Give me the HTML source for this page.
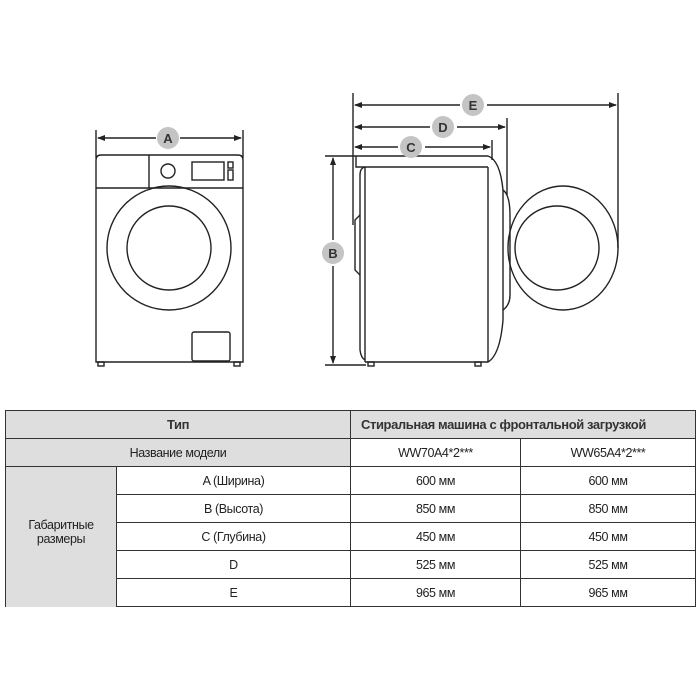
<!DOCTYPE html>
<html><head><meta charset="utf-8"><style>
body{margin:0;background:#fff;width:700px;height:700px;overflow:hidden;font-family:"Liberation Sans",sans-serif;}
svg{position:absolute;left:0;top:0}
table{position:absolute;left:5px;top:410px;border-collapse:collapse;font-family:"Liberation Sans",sans-serif;font-size:12.5px;color:#222;letter-spacing:-0.4px}
td{border:1px solid #333;text-align:center;height:27px;padding:0}
.g{background:#dedede}
.h{font-weight:bold;font-size:13px;color:#333}
</style></head><body>
<svg width="700" height="400" viewBox="0 0 700 400" fill="none" stroke="#222" stroke-width="1.4">
<defs><marker id="ar" markerWidth="8" markerHeight="8" refX="7" refY="4" orient="auto-start-reverse" markerUnits="userSpaceOnUse"><path d="M0,1 L8,4 L0,7 Z" fill="#222" stroke="none"/></marker></defs>
<!-- front -->
<line x1="96" y1="130" x2="96" y2="158"/><line x1="243" y1="130" x2="243" y2="158"/>
<line x1="98" y1="138" x2="156" y2="138" marker-start="url(#ar)"/><line x1="180" y1="138" x2="241" y2="138" marker-end="url(#ar)"/>
<path d="M96,362 V160 Q96,155 101,155 H238 Q243,155 243,160 V362 Z"/>
<line x1="96" y1="188" x2="243" y2="188"/><line x1="149" y1="155" x2="149" y2="188"/>
<circle cx="168" cy="171" r="7"/><rect x="192" y="162" width="32" height="18"/>
<rect x="228" y="162" width="5" height="6"/><rect x="228" y="170" width="5" height="10"/>
<circle cx="169" cy="248" r="62"/><circle cx="169" cy="248" r="42"/>
<rect x="192" y="332" width="38" height="29" rx="2"/>
<rect x="98" y="362" width="6" height="4"/><rect x="234" y="362" width="6" height="4"/>
<!-- side -->
<line x1="353" y1="93" x2="353" y2="225"/>
<line x1="618" y1="93" x2="618" y2="248"/>
<line x1="507" y1="118" x2="507" y2="195"/>
<line x1="492" y1="140" x2="492" y2="160"/>
<line x1="355" y1="105" x2="460" y2="105" marker-start="url(#ar)"/><line x1="487" y1="105" x2="616" y2="105" marker-end="url(#ar)"/>
<line x1="355" y1="127" x2="430" y2="127" marker-start="url(#ar)"/><line x1="457" y1="127" x2="505" y2="127" marker-end="url(#ar)"/>
<line x1="355" y1="147" x2="398" y2="147" marker-start="url(#ar)"/><line x1="425" y1="147" x2="490" y2="147" marker-end="url(#ar)"/>
<line x1="325" y1="156" x2="356" y2="156"/><line x1="325" y1="365" x2="366" y2="365"/>
<line x1="333" y1="158" x2="333" y2="240" marker-start="url(#ar)"/><line x1="333" y1="266" x2="333" y2="363" marker-end="url(#ar)"/>
<path d="M356,156 H488 Q500,160 503,190 V320 Q500,355 488,362 H365"/>
<path d="M356,156 V167 H488"/>
<path d="M365,167 Q360,168 360,175 V350 Q361,358 365,360"/>
<line x1="365" y1="167" x2="365" y2="362"/><line x1="488" y1="167" x2="488" y2="362"/>
<path d="M360,215 L355,220 V270 L360,275"/>
<path d="M503,190 Q510,195 510,215 V295 Q510,305 503,310"/>
<ellipse cx="563" cy="248" rx="55" ry="62"/><ellipse cx="557" cy="248" rx="42" ry="42"/>
<rect x="368" y="362" width="6" height="4"/><rect x="475" y="362" width="6" height="4"/>
<g stroke="none" fill="#c4c4c4">
<circle cx="168" cy="138" r="11"/><circle cx="473" cy="105" r="11"/><circle cx="443" cy="127" r="11"/><circle cx="411" cy="147" r="11"/><circle cx="333" cy="253" r="11"/></g>
<g stroke="none" fill="#333" font-size="13" font-weight="bold" text-anchor="middle" font-family="Liberation Sans">
<text x="168" y="143">A</text><text x="473" y="110">E</text><text x="443" y="132">D</text><text x="411" y="152">C</text><text x="333" y="258">B</text></g>
</svg>
<table>
<colgroup><col style="width:111px"><col style="width:234px"><col style="width:170px"><col style="width:175px"></colgroup>
<tr class="g h"><td colspan="2">Тип</td><td colspan="2" style="text-align:left;padding-left:10px">Стиральная машина с фронтальной загрузкой</td></tr>
<tr><td colspan="2" class="g">Название модели</td><td>WW70A4*2***</td><td>WW65A4*2***</td></tr>
<tr><td rowspan="5" class="g" style="border-bottom:none;padding-bottom:10px">Габаритные<br>размеры</td><td>A (Ширина)</td><td>600 мм</td><td>600 мм</td></tr>
<tr><td>B (Высота)</td><td>850 мм</td><td>850 мм</td></tr>
<tr><td>C (Глубина)</td><td>450 мм</td><td>450 мм</td></tr>
<tr><td>D</td><td>525 мм</td><td>525 мм</td></tr>
<tr><td>E</td><td>965 мм</td><td>965 мм</td></tr>
</table>
</body></html>
